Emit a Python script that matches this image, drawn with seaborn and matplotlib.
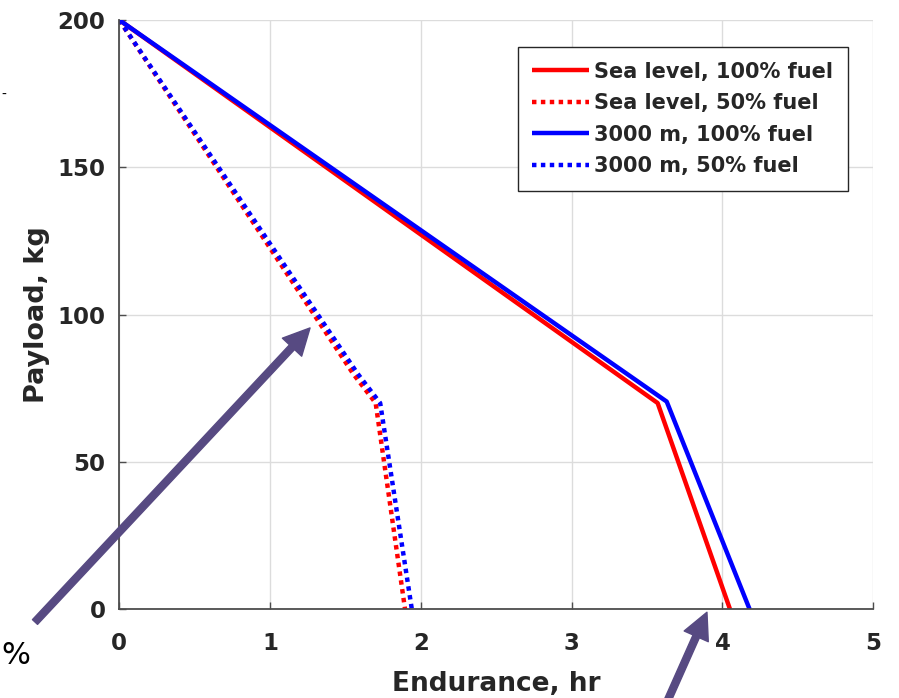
import matplotlib
matplotlib.use("Agg")
import matplotlib.pyplot as plt
import seaborn as sns
import pandas as pd

# ---- data ----
series_names = ["Sea level, 100% fuel", "Sea level, 50% fuel",
                "3000 m, 100% fuel", "3000 m, 50% fuel"]
sl100_x = [0.0, 3.57, 4.05]
sl100_y = [200, 70, 0]
sl50_x = [0.0, 1.55, 1.70, 1.895]
sl50_y = [200, 80, 70, 0]
m3000_100_x = [0.0, 3.63, 4.18]
m3000_100_y = [200, 70.5, 0]
m3000_50_x = [0.0, 1.58, 1.73, 1.94]
m3000_50_y = [200, 80, 70, 0]
x_ticks = [0, 1, 2, 3, 4, 5]
y_ticks = [0, 50, 100, 150, 200]

sns.set_style("ticks")
plt.rcParams["font.family"] = ["DejaVu Sans"]
plt.rcParams["font.weight"] = "bold"

fig = plt.figure(figsize=(8.99, 6.98), dpi=100)
ax = fig.add_axes([0.1327, 0.1271, 0.8387, 0.8442])

data = [(sl100_x, sl100_y, "#FF0000", "-"),
        (sl50_x, sl50_y, "#FF0000", (0, (1, 1))),
        (m3000_100_x, m3000_100_y, "#0000FF", "-"),
        (m3000_50_x, m3000_50_y, "#0000FF", (0, (1, 1)))]
for name, (xs, ys, c, ls) in zip(series_names, data):
    df = pd.DataFrame({"x": xs, "y": ys})
    sns.lineplot(data=df, x="x", y="y", ax=ax, color=c, linestyle=ls,
                 linewidth=3.2, label=name, sort=False, estimator=None,
                 dash_capstyle="butt", solid_capstyle="butt")

ax.set_xlim(0, 5)
ax.set_ylim(0, 200)
ax.set_xticks(x_ticks)
ax.set_yticks(y_ticks)
ax.grid(True, color="#dcdcdc", linewidth=1.0)
ax.set_axisbelow(True)
for s in ["top", "right"]:
    ax.spines[s].set_visible(False)
for s in ["left", "bottom"]:
    ax.spines[s].set_color("#4d4d4d")
    ax.spines[s].set_linewidth(1.3)
ax.tick_params(direction="in", length=5, width=1.0, color="#4d4d4d",
               labelsize=16.5, labelcolor="#262626")
ax.tick_params(axis="x", pad=16)
ax.tick_params(axis="y", pad=10)
for lab in ax.get_xticklabels() + ax.get_yticklabels():
    lab.set_fontweight("bold")
ax.set_xlabel("Endurance, hr", fontsize=19, fontweight="bold", color="#262626", labelpad=12)
ax.set_ylabel("Payload, kg", fontsize=19.5, fontweight="bold", color="#262626", labelpad=5)

leg = ax.legend(loc="upper right", bbox_to_anchor=(0.9665, 0.954), borderaxespad=0,
                frameon=True, fancybox=False, framealpha=1, edgecolor="#262626",
                handlelength=2.75, handletextpad=0.24, labelspacing=0.55,
                borderpad=0.7, prop={"weight": "bold", "size": 15})
leg.get_frame().set_linewidth(1.0)

arrow_col = "#574A82"
ax.annotate("", xy=(1.265, 95.5), xycoords="data", xytext=(35, 76),
            textcoords="figure pixels", annotation_clip=False,
            arrowprops=dict(width=5, headwidth=19, headlength=19, color=arrow_col, shrink=0))
ax.annotate("", xy=(3.897, -1.0), xycoords="data", xytext=(667, -4),
            textcoords="figure pixels", annotation_clip=False,
            arrowprops=dict(width=5, headwidth=19, headlength=19, color=arrow_col, shrink=0))

fig.text(1 / 899, 1 - 655 / 698, "%", fontsize=22, fontweight="normal",
         color="black", va="center", ha="left")
fig.text(1 / 899, 1 - 95 / 698, "-", fontsize=10, fontweight="normal",
         color="black", va="center", ha="left")

fig.savefig("out.png", dpi=100)
